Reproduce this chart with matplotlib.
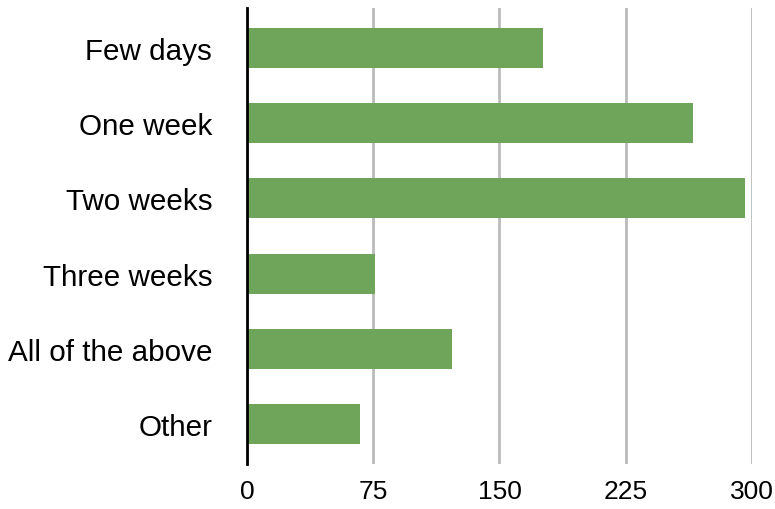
import matplotlib.pyplot as plt
import numpy as np

categories = ["Few days", "One week", "Two weeks", "Three weeks", "All of the above", "Other"]
values = [176, 265, 296, 76, 122, 67]
xticks = [0, 75, 150, 225, 300]

plt.rcParams["font.family"] = ["Liberation Sans", "DejaVu Sans"]

fig = plt.figure(figsize=(7.75, 5.1), dpi=100)
ax = fig.add_axes([0.3187, 0.0882, 0.6516, 0.8941])

y = np.arange(len(categories))
ax.barh(y, values, height=0.532, color="#6fa55b", zorder=3)
ax.set_yticks(y)
ax.set_yticklabels(categories, fontsize=21.3)
ax.set_ylim(len(categories) - 0.47, -0.53)
ax.set_xlim(0, 300)
ax.set_xticks(xticks)
ax.set_xticklabels([str(t) for t in xticks], fontsize=19)
ax.tick_params(length=0, pad=11)
ax.tick_params(axis="y", pad=25)
ax.grid(axis="x", color="#bbbbbb", linewidth=2, zorder=0)
for s in ["top", "right", "bottom"]:
    ax.spines[s].set_visible(False)
ax.spines["left"].set_linewidth(2)
ax.spines["left"].set_zorder(4)

fig.savefig("out.png", dpi=100)
